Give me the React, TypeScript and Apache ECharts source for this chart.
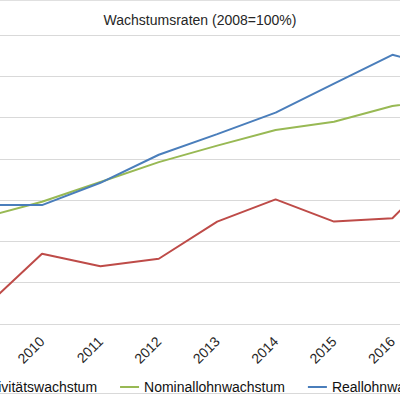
import React, { useEffect, useRef } from "react";
import * as echarts from "echarts";

const years = ["2008", "2009", "2010", "2011", "2012", "2013", "2014", "2015", "2016", "2017"];
const produktivitaet = [100, 91.9, 98.5, 97.0, 97.9, 102.4, 105.1, 102.4, 102.8, 109.9];
const nominallohn = [100, 102.9, 104.8, 107.2, 109.6, 111.6, 113.5, 114.5, 116.4, 117.3];
const reallohn = [100, 104.4, 104.4, 107.1, 110.5, 113.0, 115.6, 119.1, 122.6, 120.8];
const seriesNames = ["Produktivitätswachstum", "Nominallohnwachstum", "Reallohnwachstum"];
const titleText = "Wachstumsraten (2008=100%)";

const FONT = "'Liberation Sans', Arial, sans-serif";

export default function App() {
  const ref = useRef<HTMLDivElement>(null);
  useEffect(() => {
    if (!ref.current) return;
    const chart = echarts.init(ref.current, null, { renderer: "svg" });
    const colors = ["#BE4B48", "#98B954", "#4A7EBB"];
    const data = [produktivitaet, nominallohn, reallohn];
    chart.setOption({
      animation: false,
      backgroundColor: "#ffffff",
      title: {
        text: titleText,
        left: "center",
        top: 8,
        textStyle: { fontFamily: FONT, fontSize: 14, fontWeight: "normal", color: "#262626" },
      },
      legend: {
        data: seriesNames,
        left: 51,
        top: 375,
        itemGap: 23,
        itemWidth: 19,
        itemHeight: 2,
        icon: "rect",
        textStyle: { fontFamily: FONT, fontSize: 14, color: "#111111" },
      },
      grid: { left: 26, right: 50, top: 35, bottom: 71, containLabel: false },
      xAxis: {
        type: "category",
        data: years,
        boundaryGap: true,
        axisLine: { lineStyle: { color: "#D9D9D9", width: 1 } },
        axisTick: { show: false },
        axisLabel: {
          rotate: 45,
          margin: 15,
          fontFamily: FONT,
          fontSize: 14,
          color: "#262626",
          interval: 0,
        },
        splitLine: { show: false },
      },
      yAxis: {
        type: "value",
        min: 90,
        max: 125,
        interval: 5,
        axisLabel: { show: false },
        axisLine: { show: false },
        axisTick: { show: false },
        splitLine: { lineStyle: { color: "#D9D9D9", width: 1 } },
      },
      graphic: [
        { type: "rect", shape: { x: 0, y: 0, width: 660, height: 1 }, style: { fill: "#E0E0E0" }, silent: true },
        { type: "rect", shape: { x: 0, y: 393, width: 660, height: 1 }, style: { fill: "#D9D9D9" }, silent: true },
      ],
      series: seriesNames.map((name, i) => ({
        name,
        type: "line",
        data: data[i],
        symbol: "none",
        showSymbol: false,
        itemStyle: { color: colors[i] },
        lineStyle: { color: colors[i], width: 2 },
      })),
    });
    return () => chart.dispose();
  }, []);
  return (
    <div style={{ position: "fixed", left: 0, top: 0, width: 400, height: 395, overflow: "hidden", background: "#fff" }}>
      <div ref={ref} style={{ position: "absolute", left: -130, top: 0, width: 660, height: 395 }} />
    </div>
  );
}
